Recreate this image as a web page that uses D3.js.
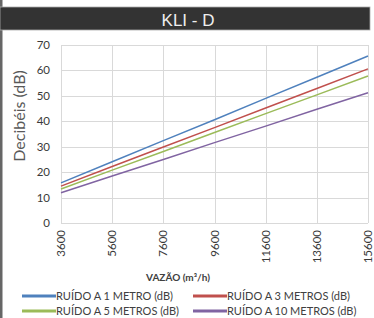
<!DOCTYPE html>
<html lang="pt">
<head>
    <meta charset="UTF-8">
    <title>KLI - D</title>
    <script src="https://d3js.org/d3.v7.min.js"></script>
    <style>
        body {
            margin: 0;
            background-color: #fff;
            font-family: Lato, "Open Sans", sans-serif;
        }
        svg { display: block; }
        .tick-label { font-size: 11.5px; fill: #3a3a3a; }
        .grid line { stroke: #d9d9d9; stroke-width: 1; }
        .legend-text { font-size: 11px; fill: #404040; }
    </style>
</head>
<body>
    <div id="chart"></div>

    <script>
        // Data
        const flows = [3600, 5600, 7600, 9600, 11600, 13600, 15600];
        const ruido1m = [15.8, 24.1, 32.4, 40.6, 49.0, 57.3, 65.7];
        const ruido3m = [14.5, 22.2, 29.9, 37.5, 45.2, 52.9, 60.6];
        const ruido5m = [13.4, 20.8, 28.1, 35.6, 43.0, 50.4, 57.8];
        const ruido10m = [11.9, 18.5, 25.0, 31.6, 38.1, 44.7, 51.2];
        const yTicks = [0, 10, 20, 30, 40, 50, 60, 70];

        const seriesNames = [
            "RUÍDO A 1 METRO (dB)",
            "RUÍDO A 3 METROS (dB)",
            "RUÍDO A 5 METROS (dB)",
            "RUÍDO A 10 METROS (dB)"
        ];
        const seriesColors = ["#4f81bd", "#c0504d", "#9bbb59", "#8064a2"];
        const seriesValues = [ruido1m, ruido3m, ruido5m, ruido10m];

        const width = 374;
        const height = 318;
        const plot = { left: 61, right: 368, top: 45, bottom: 223 };

        const svg = d3.select("#chart")
            .append("svg")
            .attr("width", width)
            .attr("height", height);

        // Left border and title bar
        svg.append("rect")
            .attr("x", 0).attr("y", 0)
            .attr("width", 2.5).attr("height", height)
            .attr("fill", "#666");

        svg.append("rect")
            .attr("x", 0).attr("y", 7)
            .attr("width", 370).attr("height", 23)
            .attr("fill", "#333")
            .attr("stroke", "#aaa")
            .attr("stroke-width", 0.8);

        svg.append("text")
            .attr("x", 188).attr("y", 25.5)
            .attr("text-anchor", "middle")
            .attr("font-family", "'Liberation Sans', Arial, sans-serif")
            .attr("font-size", 17)
            .attr("fill", "#eee")
            .text("KLI - D");

        const x = d3.scaleLinear()
            .domain([3600, 15600])
            .range([plot.left, plot.right]);

        const y = d3.scaleLinear()
            .domain([0, 70])
            .range([plot.bottom, plot.top]);

        // Gridlines
        const grid = svg.append("g").attr("class", "grid");
        grid.selectAll(".hg")
            .data(yTicks)
            .join("line")
            .attr("x1", plot.left).attr("x2", plot.right)
            .attr("y1", d => Math.round(y(d)) + 0.5)
            .attr("y2", d => Math.round(y(d)) + 0.5);
        grid.selectAll(".vg")
            .data(flows)
            .join("line")
            .attr("x1", d => Math.round(x(d)) + 0.5)
            .attr("x2", d => Math.round(x(d)) + 0.5)
            .attr("y1", plot.top).attr("y2", plot.bottom);

        // Y tick labels
        svg.append("g")
            .selectAll("text")
            .data(yTicks)
            .join("text")
            .attr("class", "tick-label")
            .attr("x", 50)
            .attr("y", d => y(d) + 4)
            .attr("text-anchor", "end")
            .text(d => d);

        // X tick labels, rotated
        svg.append("g")
            .selectAll("text")
            .data(flows)
            .join("text")
            .attr("class", "tick-label")
            .attr("transform", d => `translate(${x(d) + 4},230) rotate(-90)`)
            .attr("text-anchor", "end")
            .text(d => d);

        // Axis titles
        svg.append("text")
            .attr("transform", "translate(25,116) rotate(-90)")
            .attr("text-anchor", "middle")
            .attr("font-size", 16)
            .attr("fill", "#595959")
            .text("Decibéis (dB)");

        svg.append("text")
            .attr("x", 178).attr("y", 281)
            .attr("text-anchor", "middle")
            .attr("font-size", 10)
            .attr("font-weight", "bold")
            .attr("fill", "#404040")
            .text("VAZÃO (m³/h)");

        // Lines
        const line = d3.line()
            .x((d, i) => x(flows[i]))
            .y(d => y(d));

        svg.append("g")
            .selectAll("path")
            .data(seriesValues)
            .join("path")
            .attr("d", line)
            .attr("fill", "none")
            .attr("stroke", (d, i) => seriesColors[i])
            .attr("stroke-width", 1.5);

        // Legend
        const legendPos = [[22, 296], [193, 296], [22, 311], [193, 311]];
        const legend = svg.append("g")
            .selectAll("g")
            .data(seriesNames)
            .join("g")
            .attr("transform", (d, i) => `translate(${legendPos[i][0]},${legendPos[i][1]})`);

        legend.append("line")
            .attr("x1", 0).attr("x2", 34)
            .attr("stroke", (d, i) => seriesColors[i])
            .attr("stroke-width", 3);

        legend.append("text")
            .attr("class", "legend-text")
            .attr("x", 34)
            .attr("y", 4)
            .text(d => d);
    </script>
</body>
</html>
